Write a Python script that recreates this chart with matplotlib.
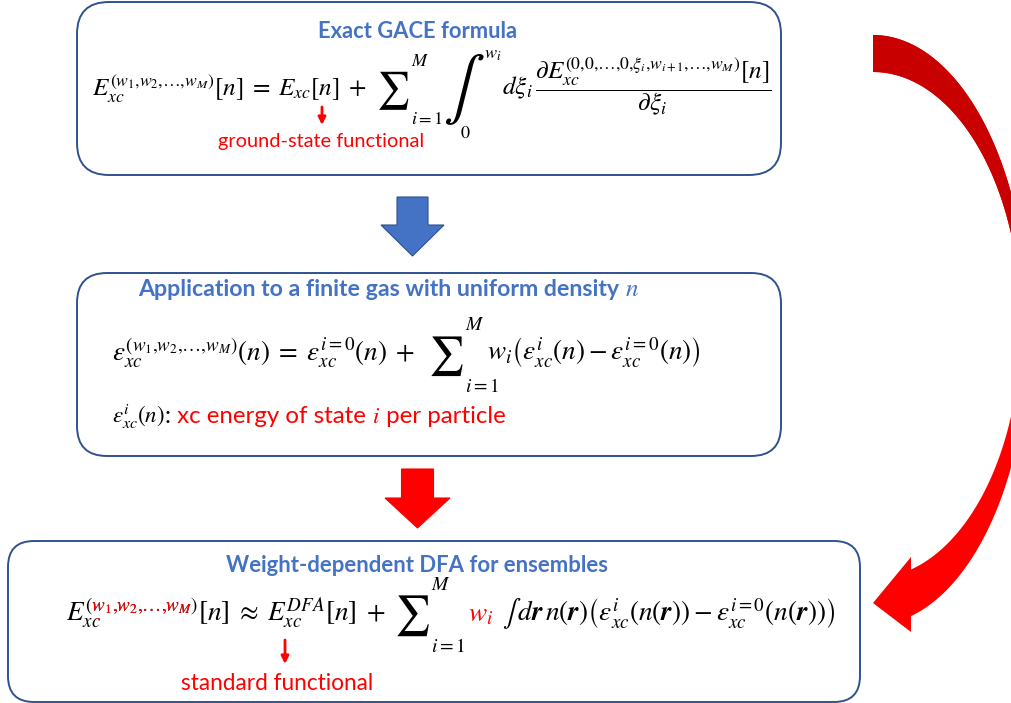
import matplotlib
matplotlib.use("Agg")
import matplotlib.pyplot as plt
from matplotlib.patches import FancyBboxPatch, Polygon, Rectangle
from matplotlib.transforms import Bbox
import numpy as np

plt.rcParams["mathtext.fontset"] = "stix"
plt.rcParams["font.family"] = ["Lato", "DejaVu Sans"]

W, H = 1012, 703
fig = plt.figure(figsize=(W / 100, H / 100), dpi=100)
ax = fig.add_axes([0, 0, 1, 1])
ax.set_xlim(0, W)
ax.set_ylim(H, 0)
ax.axis("off")
renderer = fig.canvas.get_renderer()


def measure(s, size, **kw):
    t = ax.text(0, 0, s, fontsize=size, **kw)
    try:
        w = t.get_window_extent(renderer).width
    finally:
        t.remove()
    return w


# bold-italic vector r if this matplotlib supports it
try:
    measure(r"$\mathbfit{r}$", 10)
    BR = r"\mathbfit{r}"
except Exception:
    BR = r"\mathbf{r}"

# ---------------- content ----------------
title_texts = ["Exact GACE formula",
               "Application to a finite gas with uniform density ",
               "Weight-dependent DFA for ensembles"]
title_symbol = r"$n$"
note_texts = ["ground-state functional", "standard functional"]
state_note = [":", " xc energy of state ", r"$i$", " per particle"]

eq1_lhs = r"$E_{xc}^{(w_1{,}w_2{,}\ldots{,}w_M)}[n]\;=\;E_{xc}[n]\;+$"
eq1_rhs = (r"$d\xi_i\,\dfrac{\partial E_{xc}^{(0{,}0{,}\ldots{,}0{,}\xi_i{,}w_{i+1}{,}\ldots{,}w_M)}[n]}"
           r"{\partial\xi_i}$")
eq2_lhs = r"$\varepsilon_{xc}^{(w_1{,}w_2{,}\ldots{,}w_M)}(n)\;=\;\varepsilon_{xc}^{i=0}(n)\;+$"
eq2_rhs = r"$w_i\left(\varepsilon_{xc}^{i}(n)-\varepsilon_{xc}^{i=0}(n)\right)$"
eps_def = r"$\varepsilon_{xc}^{i}(n)$"
eq3_E = r"$E_{xc}^{(w_1{,}w_2{,}\ldots{,}w_M)}$"
eq3_sup_open = r"$E^{(}$"
eq3_sup_inner = r"$E^{(w_1{,}w_2{,}\ldots{,}w_M}$"
eq3_mid = r"$[n]\;\approx\;E_{xc}^{DFA}[n]\;+$"
eq3_w = r"$w_i$"
eq3_rhs = (r"$\int\,d" + BR + r"\,n(" + BR + r")\left(\varepsilon_{xc}^{i}(n(" + BR + r"))"
           r"-\varepsilon_{xc}^{i=0}(n(" + BR + r"))\right)$")
sum_sym, int_sym = r"$\sum$", r"$\int$"
sum_upper, sum_lower = r"$M$", r"$i=1$"
int_lower, int_upper = r"$0$", r"$w_i$"

# ---------------- style ----------------
BLUE = "#4472C4"
EDGE = "#2F528F"
RED = "#FF0000"
DARK_RED = "#C80000"


class Row:
    def __init__(self, x, y, size, scale=1.0):
        self.x, self.y, self.size, self.s = x, y, size, scale
        self.arts = []

    def put(self, s, rel=1.0, color="black", dy=0.0, va="baseline", dx=0.0,
            advance=True, **kw):
        t = ax.text(self.x + dx * self.s, self.y + dy * self.s, s,
                    fontsize=self.size * rel * self.s, color=color,
                    ha="left", va=va, **kw)
        self.arts.append(t)
        w = t.get_window_extent(renderer).width
        if advance:
            self.x += dx * self.s + w
        return w

    def gap(self, d):
        self.x += d * self.s

    def limits(self, sup, sub, rel=0.72, dsup=-22, dsub=22, dx=1):
        w1 = self.put(sup, rel, dy=dsup, dx=dx, advance=False)
        w2 = self.put(sub, rel, dy=dsub, dx=dx, advance=False)
        self.x += dx * self.s + max(w1, w2)


def fitted_row(x0, x1, y, size, builder):
    r = Row(x0, y, size, 1.0)
    builder(r)
    total = r.x - x0
    for a in r.arts:
        a.remove()
    r = Row(x0, y, size, (x1 - x0) / total)
    builder(r)
    return r


def fit_text(s, x0, x1, yc, **kw):
    t = ax.text(x0, yc, s, fontsize=10, ha="left", va="center", **kw)
    w = t.get_window_extent(renderer).width
    t.set_fontsize(10 * (x1 - x0) / w)
    return t


# ---------------- boxes ----------------
for (x0, y0, x1, y1, rad) in [(77, 2, 781, 175, 32), (77, 273, 781, 456, 30),
                              (8, 541, 860, 702, 26)]:
    ax.add_patch(FancyBboxPatch((x0, y0), x1 - x0, y1 - y0,
                                boxstyle=f"round,pad=0,rounding_size={rad}",
                                fc="white", ec=EDGE, lw=1.4, zorder=1))

# ---------------- block arrows ----------------
def block_arrow(xc, top, sw, hw, htop, tip, fc, ec):
    pts = [(xc - sw / 2, top), (xc + sw / 2, top), (xc + sw / 2, htop),
           (xc + hw / 2, htop), (xc, tip), (xc - hw / 2, htop), (xc - sw / 2, htop)]
    ax.add_patch(Polygon(pts, closed=True, fc=fc, ec=ec, lw=0.8, zorder=2))

block_arrow(412.5, 197, 31, 63, 225, 256, BLUE, EDGE)
block_arrow(417.5, 469, 32, 65, 498, 528, RED, RED)

# ---------------- big curved arrow ----------------
def ell(cx, cy, a, b, t):
    return cx + a * np.sin(t), cy - b * np.cos(t)

base_x = 911
A_OUT, A_IN = 156, 148
t_o = np.pi - np.arcsin((base_x - 873) / A_OUT)
t_i = np.pi - np.arcsin((base_x - 873) / A_IN)
to = np.linspace(0, t_o, 240)
ti = np.linspace(t_i, 0, 240)
ox, oy = ell(873, 330, A_OUT, 295, to)
ix, iy = ell(873, 325, A_IN, 253, ti)
pts = list(zip(ox, oy)) + [(base_x, 632), (873, 603), (base_x, 557)] + list(zip(ix, iy))
ax.add_patch(Polygon(pts, closed=True, fc=RED, ec="none", zorder=2))
dark = Polygon(pts, closed=True, fc=DARK_RED, ec="none", zorder=2.1)
ax.add_patch(dark)
dark.set_clip_path(Rectangle((840, 0), 200, 325, transform=ax.transData))

# ---------------- titles ----------------
fit_text(title_texts[0], 318, 517, 32, color=BLUE, fontweight="bold")
fit_text(title_texts[2], 226, 609, 565, color=BLUE, fontweight="bold")

def title2(r):
    r.put(title_texts[1], color=BLUE, fontweight="bold")
    r.put(title_symbol, rel=1.08, color=BLUE)

fitted_row(138, 640, 296, 15, title2)

# ---------------- equation 1 ----------------
def eq1(r):
    r.put(eq1_lhs)
    r.gap(7)
    r.put(sum_sym, rel=1.45, va="center", dy=-3.5)
    r.limits(sum_upper, sum_lower)
    r.gap(0)
    x_int = r.x
    w_int = r.put(int_sym, rel=2.45, va="center", dy=-4)
    r.put(int_lower, rel=0.72, dy=33,
          dx=(x_int + 0.42 * w_int - r.x) / r.s, advance=False)
    r.put(int_upper, rel=0.72, dy=-28, dx=0)
    r.gap(0)
    r.put(eq1_rhs)

fitted_row(92, 777, 95, 14, eq1)

fit_text(note_texts[0], 218, 425, 141, color=RED)
ax.annotate("", xy=(322, 125), xytext=(322, 107),
            arrowprops=dict(arrowstyle="-|>", color=RED, lw=2,
                            mutation_scale=11, shrinkA=0, shrinkB=0))

# ---------------- equation 2 ----------------
def eq2(r):
    r.put(eq2_lhs)
    r.gap(9)
    r.put(sum_sym, rel=1.45, va="center", dy=-3.5)
    r.limits(sum_upper, sum_lower)
    r.gap(-8)
    r.put(eq2_rhs)

fitted_row(112, 706, 361, 14, eq2)

def epsline(r):
    r.put(eps_def)
    r.put(state_note[0], rel=1.05)
    r.put(state_note[1], rel=1.05, color=RED)
    r.put(state_note[2], rel=1.0, color=RED)
    r.put(state_note[3], rel=1.05, color=RED)

fitted_row(112, 505, 423, 14, epsline)

# ---------------- equation 3 ----------------
def eq3(r):
    x_start = r.x
    r.put(eq3_E)
    size = r.size * r.s
    wA = measure(eq3_sup_open, size)
    wB = measure(eq3_sup_inner, size)
    t = ax.text(x_start, r.y, eq3_E, fontsize=size, color=RED,
                ha="left", va="baseline")
    p0 = ax.transData.transform((x_start + wA, r.y - 60))
    p1 = ax.transData.transform((x_start + wB, r.y - 1))
    t.set_clip_on(True)
    t.set_clip_box(Bbox([[min(p0[0], p1[0]), min(p0[1], p1[1])],
                         [max(p0[0], p1[0]), max(p0[1], p1[1])]]))
    r.arts.append(t)
    r.put(eq3_mid)
    r.gap(6)
    r.put(sum_sym, rel=1.45, va="center", dy=-3.5)
    r.limits(sum_upper, sum_lower)
    r.gap(2)
    r.put(eq3_w, color=RED)
    r.gap(6)
    r.put(eq3_rhs)

fitted_row(66, 842, 621, 14, eq3)

fit_text(note_texts[1], 181, 374, 683, color=RED)
ax.annotate("", xy=(285, 664), xytext=(285, 640),
            arrowprops=dict(arrowstyle="-|>", color=RED, lw=2,
                            mutation_scale=11, shrinkA=0, shrinkB=0))

fig.savefig("out.png", dpi=100)
